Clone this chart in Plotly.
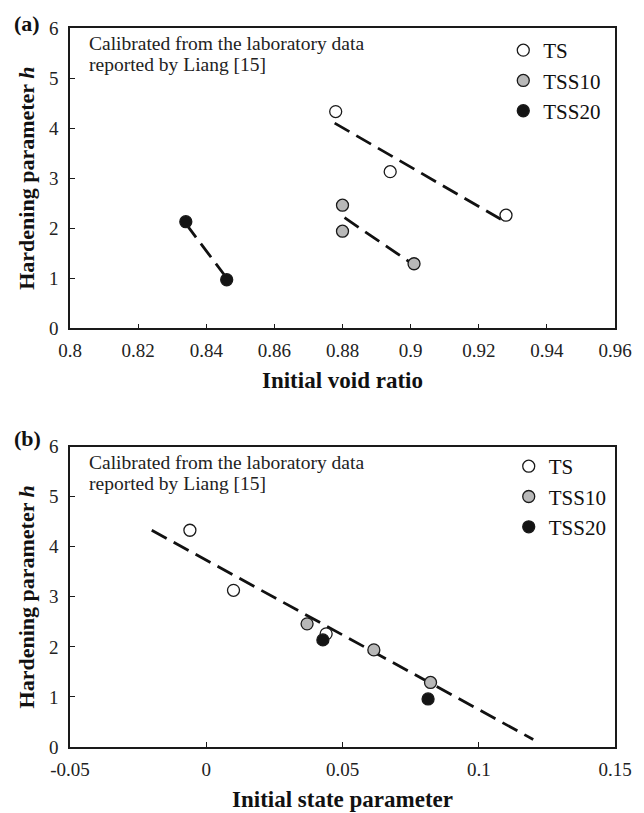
import plotly.graph_objects as go
from plotly.subplots import make_subplots

# ---- Data: panel (a) initial void ratio vs hardening parameter h
ts_e = [0.878, 0.894, 0.928]
ts_h = [4.33, 3.13, 2.26]
tss10_e = [0.880, 0.880, 0.901]
tss10_h = [2.46, 1.94, 1.29]
tss20_e = [0.834, 0.846]
tss20_h = [2.13, 0.97]

# fitted dashed lines (panel a)
fit_ts_e = [0.8777, 0.927]
fit_ts_h = [4.10, 2.16]
fit_10_e = [0.8806, 0.900]
fit_10_h = [2.21, 1.31]
fit_20_e = [0.834, 0.8455]
fit_20_h = [2.09, 1.05]

# ---- Data: panel (b) initial state parameter vs h
ts_psi = [-0.006, 0.010, 0.044]
tss10_psi = [0.037, 0.0615, 0.0823]
tss20_psi = [0.0428, 0.0814]
tss20_hb = [2.14, 0.96]
fit_all_psi = [-0.020, 0.120]
fit_all_h = [4.33, 0.15]

names = ["TS", "TSS10", "TSS20"]
fills = ["#ffffff", "#b8b8b8", "#141414"]

x_ticks_a = [0.8, 0.82, 0.84, 0.86, 0.88, 0.9, 0.92, 0.94, 0.96]
x_ticks_b = [-0.05, 0, 0.05, 0.1, 0.15]
y_ticks = [0, 1, 2, 3, 4, 5, 6]

FONT = "Liberation Serif"

fig = make_subplots(rows=2, cols=1, vertical_spacing=0.1646)

dash_line = dict(color="#111111", width=2.8, dash="17px,8px")

# Panel (a) lines
for lx, ly in [(fit_ts_e, fit_ts_h), (fit_10_e, fit_10_h), (fit_20_e, fit_20_h)]:
    fig.add_trace(go.Scatter(x=lx, y=ly, mode="lines", line=dash_line,
                             showlegend=False, hoverinfo="skip"), row=1, col=1)
# Panel (b) line
fig.add_trace(go.Scatter(x=fit_all_psi, y=fit_all_h, mode="lines", line=dash_line,
                         showlegend=False, hoverinfo="skip"), row=2, col=1)

data_a = [(ts_e, ts_h), (tss10_e, tss10_h), (tss20_e, tss20_h)]
data_b = [(ts_psi, ts_h), (tss10_psi, tss10_h), (tss20_psi, tss20_hb)]

for i, (xx, yy) in enumerate(data_a):
    fig.add_trace(go.Scatter(
        x=xx, y=yy, mode="markers", name=names[i], legend="legend",
        legendgroup="a" + names[i],
        marker=dict(size=12, color=fills[i], line=dict(color="#1a1a1a", width=1.3))),
        row=1, col=1)
for i, (xx, yy) in enumerate(data_b):
    fig.add_trace(go.Scatter(
        x=xx, y=yy, mode="markers", name=names[i], legend="legend2",
        legendgroup="b" + names[i],
        marker=dict(size=12, color=fills[i], line=dict(color="#1a1a1a", width=1.3))),
        row=2, col=1)

axis_common = dict(
    showline=True, linecolor="#1a1a1a", linewidth=1.5, mirror=True,
    ticks="inside", ticklen=5, tickcolor="#1a1a1a", tickwidth=1.2,
    showgrid=False, zeroline=False,
    tickfont=dict(family=FONT, size=19, color="#222222"),
)

fig.update_xaxes(**axis_common, ticklabelstandoff=4)
fig.update_yaxes(**axis_common, ticklabelstandoff=6)

fig.update_xaxes(range=[0.8, 0.96], tickvals=x_ticks_a,
                 ticktext=[("%g" % v) for v in x_ticks_a],
                 title=dict(text="<b>Initial void ratio</b>", standoff=12,
                            font=dict(family=FONT, size=23, color="#111111")),
                 row=1, col=1)
fig.update_xaxes(range=[-0.05, 0.15], tickvals=x_ticks_b,
                 ticktext=[("%g" % v) for v in x_ticks_b],
                 title=dict(text="<b>Initial state parameter</b>", standoff=12,
                            font=dict(family=FONT, size=23, color="#111111")),
                 row=2, col=1)
for r in (1, 2):
    fig.update_yaxes(range=[0, 6], tickvals=y_ticks,
                     title=dict(text="<b>Hardening parameter <i>h</i></b>", standoff=8,
                                font=dict(family=FONT, size=22, color="#111111")),
                     row=r, col=1)

fig.update_layout(
    width=644, height=813,
    margin=dict(l=70, r=29, t=28, b=66, autoexpand=False),
    paper_bgcolor="white", plot_bgcolor="white",
    font=dict(family=FONT, color="#111111"),
    legend=dict(x=0.795, y=0.9972, xanchor="left", yanchor="top",
                font=dict(family=FONT, size=21, color="#111111"),
                bgcolor="rgba(0,0,0,0)", tracegroupgap=0, itemwidth=30),
    legend2=dict(x=0.805, y=0.4186, xanchor="left", yanchor="top",
                 font=dict(family=FONT, size=21, color="#111111"),
                 bgcolor="rgba(0,0,0,0)", tracegroupgap=0, itemwidth=30),
)

note_lines = ["Calibrated from the laboratory data", "reported by Liang [15]"]
for xd, yd in (("x domain", "y domain"), ("x2 domain", "y2 domain")):
    for k, line in enumerate(note_lines):
        fig.add_annotation(text=line, xref=xd, yref=yd, x=0.032, y=0.948 - k * 0.069,
                           xanchor="left", yanchor="middle", showarrow=False, align="left",
                           font=dict(family=FONT, size=19.5, color="#222222"))

fig.add_annotation(text="<b>(a)</b>", xref="paper", yref="paper", x=-0.106, y=1.0063,
                   xanchor="left", yanchor="middle", showarrow=False,
                   font=dict(family=FONT, size=22, color="#111111"))
fig.add_annotation(text="<b>(b)</b>", xref="paper", yref="paper", x=-0.106, y=0.4293,
                   xanchor="left", yanchor="middle", showarrow=False,
                   font=dict(family=FONT, size=22, color="#111111"))

fig.write_html("out.html")
